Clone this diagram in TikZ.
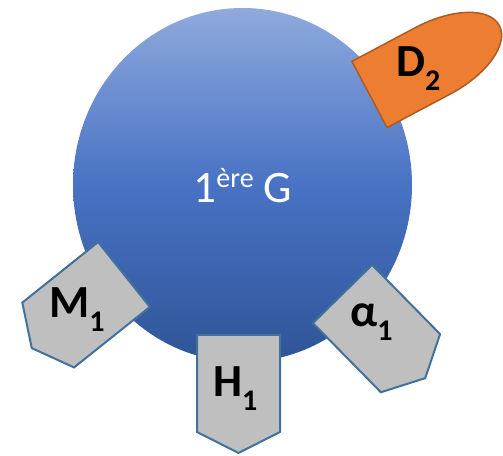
\documentclass[tikz,border=0pt]{standalone}
\usepackage{fontspec}
\setmainfont{Carlito}
\definecolor{pentfill}{HTML}{BFBFBF}
\definecolor{pentline}{HTML}{41719C}
\definecolor{dfill}{HTML}{ED7D31}
\definecolor{dline}{HTML}{AE5A21}
\definecolor{gtop}{RGB}{143,170,220}
\definecolor{gmid}{RGB}{72,114,196}
\definecolor{gbot}{RGB}{47,85,151}
\newcommand\sublab[2]{#1\raisebox{-0.3em}{\fontsize{30}{30}\selectfont #2}}
\newcommand\pentpath{(0,-41.5) -- (97,-41.5) -- (118,0) -- (97,41.5) -- (0,41.5) -- cycle}
\begin{document}
\begin{tikzpicture}[x=1pt,y=1pt,
  pent/.style={fill=pentfill, draw=pentline, line width=2pt, line join=miter},
  dshape/.style={fill=dfill, draw=dline, line width=1.5pt},
  lab/.style={font=\fontsize{46}{46}\selectfont\bfseries, text=black, inner sep=0pt, anchor=base west},
  ball/.style={top color=gtop, bottom color=gbot, middle color=gmid}]
\useasboundingbox (0,0) rectangle (503,455);
% sphere
\path[ball] (242.5,270) ellipse [x radius=169.5, y radius=177];
\node[font=\fontsize{45}{45}\selectfont, text=white, inner sep=0pt, anchor=base] (title) at (243,252)
  {1\raisebox{0.34em}{\fontsize{28}{28}\selectfont ère} G};
% D2
\draw[dshape, shift={(369.5,360.5)}, rotate=28]
  (0,-37.5) -- (72,-37.5) arc[start angle=-90, end angle=90, x radius=75, y radius=37.5] -- (0,37.5) -- cycle;
\node[lab] (d2) at (396,378) {\sublab{D}{2}};
% pentagons
\draw[pent, shift={(238.5,120)}, rotate=-90] \pentpath;
\node[lab] (h1) at (213,58) {\sublab{H}{1}};
\draw[pent, shift={(124,180.5)}, rotate=-141.4] \pentpath;
\node[lab] (m1) at (49,137) {\sublab{M}{1}};
\draw[pent, shift={(342.5,161)}, rotate=-45.5] \pentpath;
\node[lab] (a1) at (350,128) {\sublab{α}{1}};
\end{tikzpicture}
\end{document}
